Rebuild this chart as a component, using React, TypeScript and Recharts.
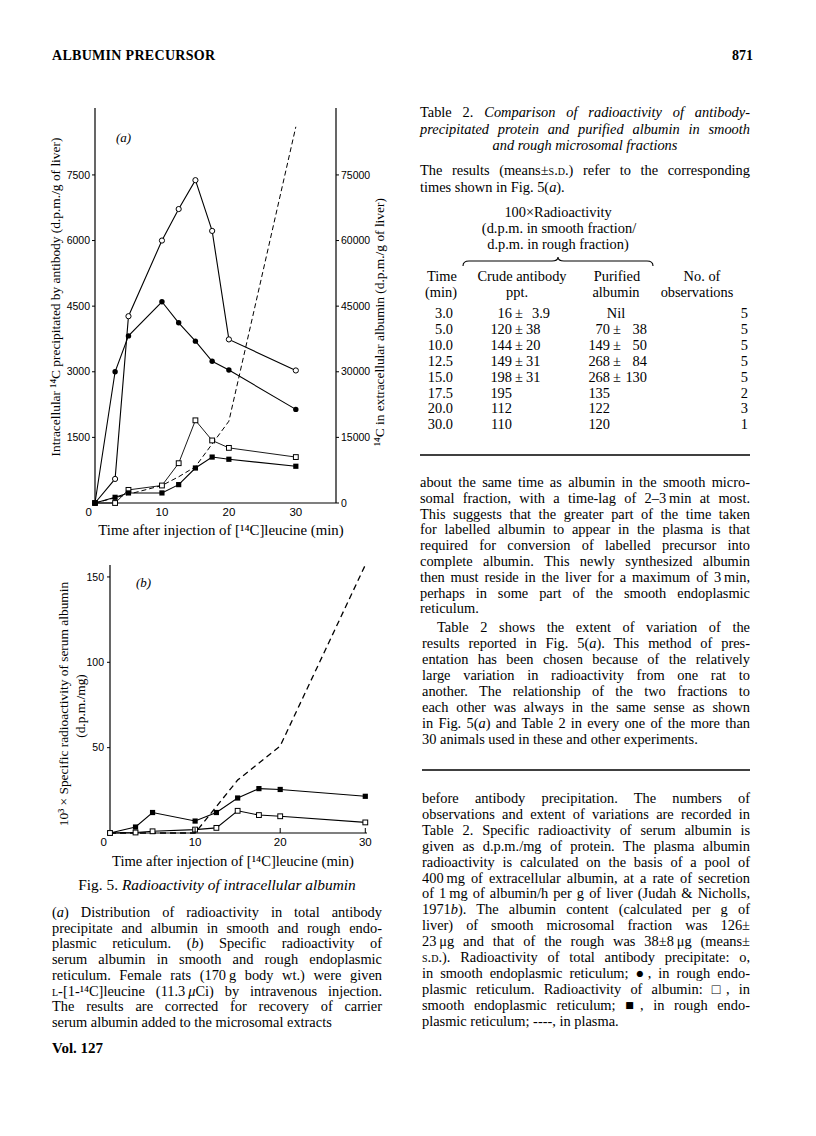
import React from "react";
import { LineChart, Line, XAxis, YAxis } from "recharts";

// Fig. 5(a) – times (min) and intracellular 14C (d.p.m./g liver)
const TIMES = [0, 3, 5, 10, 12.5, 15, 17.5, 20, 30];
const SMOOTH_TOTAL_A = [0, 550, 4270, 6000, 6720, 7380, 6220, 3740, 3030];
const ROUGH_TOTAL_A = [0, 3000, 3820, 4600, 4120, 3700, 3240, 3040, 2140];
const SMOOTH_ALB_A = [0, 0, 300, 400, 910, 1890, 1430, 1260, 1050];
const ROUGH_ALB_A = [0, 130, 230, 230, 420, 800, 1050, 1000, 840];
// extracellular albumin (right axis), null = no point
const PLASMA_A = [0, null, null, 4000, 6000, 8300, null, 18700, 86000];
const LEFT_TICKS_A = [1500, 3000, 4500, 6000, 7500];
const RIGHT_TICKS_A = [0, 15000, 30000, 45000, 60000, 75000];

// Fig. 5(b) – 10^3 x specific radioactivity of serum albumin
const ROUGH_B = [0, 3.5, 12, 7, 12, 20.5, 26, 25.5, 21.5];
const SMOOTH_B = [0, 0.3, 1, 2, 3, 13, 10.5, 9.8, 6.2];
const PLASMA_B = [0, null, null, 0, null, 31, null, 51, 157];
const Y_TICKS_B = [50, 100, 150];
const X_TICKS = [0, 10, 20, 30];

// Table 2
const TAB_TIME = ["3.0", "5.0", "10.0", "12.5", "15.0", "17.5", "20.0", "30.0"];
const TAB_CRUDE_MEAN = ["16", "120", "144", "149", "198", "195", "112", "110"];
const TAB_CRUDE_SD = ["3.9", "38", "20", "31", "31", "", "", ""];
const TAB_PUR_MEAN = ["Nil", "70", "149", "268", "268", "135", "122", "120"];
const TAB_PUR_SD = ["", "38", "50", "84", "130", "", "", ""];
const TAB_N = ["5", "5", "5", "5", "5", "2", "3", "1"];

const dataA = TIMES.map((t, i) => ({
  t,
  smoothTotal: SMOOTH_TOTAL_A[i],
  roughTotal: ROUGH_TOTAL_A[i],
  smoothAlb: SMOOTH_ALB_A[i],
  roughAlb: ROUGH_ALB_A[i],
  plasma: PLASMA_A[i],
}));

const dataB = TIMES.map((t, i) => ({
  t,
  rough: ROUGH_B[i],
  smooth: SMOOTH_B[i],
  plasma: PLASMA_B[i],
}));

const SERIF = "'Liberation Serif', 'Times New Roman', serif";
const TICK_FONT = "'Liberation Sans', Arial, sans-serif";
const THIN = "\u2009";

const openCircle = (p: any) =>
  p.cx == null || p.value == null ? <g key={p.index} /> : (
    <circle key={p.index} cx={p.cx} cy={p.cy} r={2.6} fill="#fff" stroke="#000" strokeWidth={1} />
  );
const filledCircle = (p: any) =>
  p.cx == null || p.value == null ? <g key={p.index} /> : (
    <circle key={p.index} cx={p.cx} cy={p.cy} r={2.7} fill="#000" />
  );
const openSquare = (p: any) =>
  p.cx == null || p.value == null ? <g key={p.index} /> : (
    <rect key={p.index} x={p.cx - 2.4} y={p.cy - 2.4} width={4.8} height={4.8} fill="#fff" stroke="#000" strokeWidth={1} />
  );
const filledSquare = (p: any) =>
  p.cx == null || p.value == null ? <g key={p.index} /> : (
    <rect key={p.index} x={p.cx - 2.6} y={p.cy - 2.6} width={5.2} height={5.2} fill="#000" />
  );

// x tick: "0" sits left of the origin; others may get a short inward tick mark
const makeXTick = (inward: boolean) => (p: any) => {
  const v = p.payload.value;
  const isZero = v === 0;
  return (
    <g>
      {inward && !isZero && (
        <line x1={p.x} x2={p.x} y1={p.y - 4} y2={p.y - 9} stroke="#000" strokeWidth={1} />
      )}
      <text
        x={isZero ? p.x - 3 : p.x}
        y={p.y}
        dy="0.75em"
        textAnchor={isZero ? "end" : "middle"}
        fontSize={11.5}
        fontFamily={TICK_FONT}
        fill="#000"
      >
        {v}
      </text>
    </g>
  );
};

const tickStyle = { fontSize: 10.5, fontFamily: TICK_FONT, fill: "#000" };
const axisLine = { stroke: "#000", strokeWidth: 1.2 };

function ChartA() {
  return (
    <LineChart width={400} height={560} data={dataA} margin={{ top: 108, right: 19, bottom: 32, left: 55 }}>
      <XAxis
        dataKey="t"
        type="number"
        domain={[0, 36]}
        ticks={X_TICKS}
        tickLine={false}
        tickSize={0}
        tickMargin={4}
        axisLine={axisLine}
        height={25}
        tick={makeXTick(false)}
      />
      <YAxis
        yAxisId="l"
        domain={[0, 9030]}
        ticks={LEFT_TICKS_A}
        width={40}
        tickSize={3}
        tickMargin={2}
        axisLine={axisLine}
        tickLine={{ stroke: "#000" }}
        tick={tickStyle}
      />
      <YAxis
        yAxisId="r"
        orientation="right"
        domain={[0, 90300]}
        ticks={RIGHT_TICKS_A}
        width={45}
        tickSize={3}
        tickMargin={2}
        axisLine={axisLine}
        tickLine={{ stroke: "#000" }}
        tick={tickStyle}
      />
      <Line yAxisId="r" dataKey="plasma" stroke="#000" strokeWidth={1} strokeDasharray="5 3" dot={false} connectNulls isAnimationActive={false} />
      <Line yAxisId="l" dataKey="smoothTotal" stroke="#000" strokeWidth={1.1} dot={openCircle} isAnimationActive={false} />
      <Line yAxisId="l" dataKey="roughTotal" stroke="#000" strokeWidth={1.1} dot={filledCircle} isAnimationActive={false} />
      <Line yAxisId="l" dataKey="smoothAlb" stroke="#000" strokeWidth={0.9} dot={openSquare} isAnimationActive={false} />
      <Line yAxisId="l" dataKey="roughAlb" stroke="#000" strokeWidth={1.1} dot={filledSquare} isAnimationActive={false} />
    </LineChart>
  );
}

function ChartB() {
  return (
    <LineChart width={400} height={320} data={dataB} margin={{ top: 25, right: 33, bottom: 7, left: 70 }}>
      <XAxis
        dataKey="t"
        type="number"
        domain={[0, 30.2]}
        ticks={X_TICKS}
        tickLine={false}
        tickSize={0}
        tickMargin={4}
        axisLine={axisLine}
        height={20}
        tick={makeXTick(true)}
      />
      <YAxis
        domain={[0, 157]}
        ticks={Y_TICKS_B}
        width={40}
        tickSize={3}
        tickMargin={3}
        axisLine={axisLine}
        tickLine={{ stroke: "#000" }}
        tick={tickStyle}
      />
      <Line dataKey="plasma" stroke="#000" strokeWidth={1.3} strokeDasharray="6 4" dot={false} connectNulls isAnimationActive={false} />
      <Line dataKey="rough" stroke="#000" strokeWidth={1.1} dot={filledSquare} isAnimationActive={false} />
      <Line dataKey="smooth" stroke="#000" strokeWidth={1.1} dot={openSquare} isAnimationActive={false} />
    </LineChart>
  );
}

type TProps = { x: number; y: number; align?: "left" | "right" | "center"; style?: React.CSSProperties; children: React.ReactNode };
function T({ x, y, align = "left", style, children }: TProps) {
  const base: React.CSSProperties = { position: "absolute", top: y - 8, lineHeight: "16px", whiteSpace: "nowrap" };
  if (align === "right") return <div style={{ ...base, left: x - 300, width: 300, textAlign: "right", ...style }}>{children}</div>;
  if (align === "center") return <div style={{ ...base, left: x - 300, width: 600, textAlign: "center", ...style }}>{children}</div>;
  return <div style={{ ...base, left: x, ...style }}>{children}</div>;
}

type ParaProps = { lines: React.ReactNode[]; x: number; width: number; y0: number; step: number; indent?: number; justifyLast?: boolean };
function Para({ lines, x, width, y0, step, indent = 0, justifyLast = false }: ParaProps) {
  return (
    <>
      {lines.map((ln, i) => {
        const left = i === lines.length - 1 && !justifyLast;
        const ind = i === 0 ? indent : 0;
        return (
          <div
            key={i}
            style={{
              position: "absolute",
              left: x + ind,
              width: width - ind,
              top: y0 + i * step - 8,
              lineHeight: "16px",
              whiteSpace: "nowrap",
              textAlign: left ? "left" : "justify",
              textAlignLast: left ? "left" : "justify",
            }}
          >
            {ln}
          </div>
        );
      })}
    </>
  );
}

const I = ({ children }: { children: React.ReactNode }) => <i>{children}</i>;
const SC = ({ children }: { children: React.ReactNode }) => <span style={{ fontVariant: "small-caps" }}>{children}</span>;

const para1 = [
  "about the same time as albumin in the smooth micro-",
  `somal fraction, with a time-lag of 2–3${THIN}min at most.`,
  "This suggests that the greater part of the time taken",
  "for labelled albumin to appear in the plasma is that",
  "required for conversion of labelled precursor into",
  "complete albumin. This newly synthesized albumin",
  `then must reside in the liver for a maximum of 3${THIN}min,`,
  "perhaps in some part of the smooth endoplasmic",
  "reticulum.",
];
const para2 = [
  "Table 2 shows the extent of variation of the",
  <>results reported in Fig. 5(<I>a</I>). This method of pres-</>,
  "entation has been chosen because of the relatively",
  "large variation in radioactivity from one rat to",
  "another. The relationship of the two fractions to",
  "each other was always in the same sense as shown",
  <>in Fig. 5(<I>a</I>) and Table 2 in every one of the more than</>,
  "30 animals used in these and other experiments.",
];
const para3 = [
  "before antibody precipitation. The numbers of",
  "observations and extent of variations are recorded in",
  "Table 2. Specific radioactivity of serum albumin is",
  "given as d.p.m./mg of protein. The plasma albumin",
  "radioactivity is calculated on the basis of a pool of",
  `400${THIN}mg of extracellular albumin, at a rate of secretion`,
  `of 1${THIN}mg of albumin/h per g of liver (Judah & Nicholls,`,
  <>1971<I>b</I>). The albumin content (calculated per g of</>,
  "liver) of smooth microsomal fraction was 126±",
  `23${THIN}μg and that of the rough was 38±8${THIN}μg (means±`,
  <><SC>s.d.</SC>). Radioactivity of total antibody precipitate: o,</>,
  "in smooth endoplasmic reticulum; ●, in rough endo-",
  "plasmic reticulum. Radioactivity of albumin: □, in",
  "smooth endoplasmic reticulum; ■, in rough endo-",
  "plasmic reticulum; ----, in plasma.",
];
const caption = [
  <>(<I>a</I>) Distribution of radioactivity in total antibody</>,
  "precipitate and albumin in smooth and rough endo-",
  <>plasmic reticulum. (<I>b</I>) Specific radioactivity of</>,
  "serum albumin in smooth and rough endoplasmic",
  `reticulum. Female rats (170${THIN}g body wt.) were given`,
  <><SC>l</SC>-[1-¹⁴C]leucine (11.3{THIN}<I>μ</I>Ci) by intravenous injection.</>,
  "The results are corrected for recovery of carrier",
  "serum albumin added to the microsomal extracts",
];

const rotated = (cx: number, cy: number, fs: number): React.CSSProperties => ({
  position: "absolute",
  left: cx - 200,
  top: cy - 8,
  width: 400,
  lineHeight: "16px",
  fontSize: fs,
  textAlign: "center",
  transform: "rotate(-90deg)",
  whiteSpace: "nowrap",
});

export default function App() {
  const rowY = (i: number) => 313 + i * 15.9;
  return (
    <div
      style={{
        position: "absolute",
        left: 0,
        top: 0,
        width: 816,
        height: 1136,
        background: "#fff",
        fontFamily: SERIF,
        fontSize: 14.4,
        color: "#000",
        overflow: "hidden",
      }}
    >
      {/* running head */}
      <T x={52} y={56} style={{ fontWeight: "bold", fontSize: 14, letterSpacing: 0.3 }}>ALBUMIN PRECURSOR</T>
      <T x={753} y={56} align="right" style={{ fontWeight: "bold", fontSize: 14 }}>871</T>

      {/* Fig 5(a) */}
      <div style={{ position: "absolute", left: 0, top: 0 }}>
        <ChartA />
      </div>
      <T x={116} y={138} style={{ fontStyle: "italic", fontSize: 13 }}>(a)</T>
      <div style={rotated(56, 297, 13.4)}>Intracellular ¹⁴C precipitated by antibody (d.p.m./g of liver)</div>
      <div style={rotated(380, 322, 13.4)}>¹⁴C in extracellular albumin (d.p.m./g of liver)</div>
      <T x={221} y={530} align="center" style={{ fontSize: 14.8 }}>Time after injection of [¹⁴C]leucine (min)</T>

      {/* Fig 5(b) */}
      <div style={{ position: "absolute", left: 0, top: 540 }}>
        <ChartB />
      </div>
      <T x={136} y={583} style={{ fontStyle: "italic", fontSize: 13 }}>(b)</T>
      <div style={rotated(64, 704, 13.4)}>10³ × Specific radioactivity of serum albumin</div>
      <div style={rotated(81, 706, 13.4)}>(d.p.m./mg)</div>
      <T x={233} y={861} align="center" style={{ fontSize: 14.6 }}>Time after injection of [¹⁴C]leucine (min)</T>

      <T x={217} y={885} align="center" style={{ fontSize: 15.4 }}>
        Fig. 5. <I>Radioactivity of intracellular albumin</I>
      </T>
      <Para lines={caption} x={52} width={330} y0={912} step={15.7} />
      <T x={52} y={1048} style={{ fontWeight: "bold", fontSize: 15 }}>Vol. 127</T>

      {/* Table 2 */}
      <Para
        lines={[
          <>Table 2. <I>Comparison of radioactivity of antibody-</I></>,
          <I>precipitated protein and purified albumin in smooth</I>,
        ]}
        x={420}
        width={330}
        y0={112}
        step={16.5}
        justifyLast
      />
      <T x={585} y={145} align="center"><I>and rough microsomal fractions</I></T>
      <Para
        lines={[
          <>The results (means±<SC>s.d.</SC>) refer to the corresponding</>,
          <>times shown in Fig. 5(<I>a</I>).</>,
        ]}
        x={420}
        width={330}
        y0={170}
        step={16.5}
      />
      <T x={558} y={212} align="center">100×Radioactivity</T>
      <T x={559} y={228} align="center">(d.p.m. in smooth fraction/</T>
      <T x={558} y={244} align="center">d.p.m. in rough fraction)</T>
      <svg style={{ position: "absolute", left: 0, top: 0 }} width={816} height={1136}>
        <path d="M463,266 Q463,261 469,261 L552,261 Q558,261 558,257 Q558,261 564,261 L647,261 Q653,261 653,266" fill="none" stroke="#000" strokeWidth={1.1} />
        <line x1={420} x2={750} y1={455} y2={455} stroke="#000" strokeWidth={1.4} />
        <line x1={422} x2={750} y1={770} y2={770} stroke="#000" strokeWidth={1.4} />
      </svg>
      <T x={442} y={276} align="center">Time</T>
      <T x={441} y={292} align="center">(min)</T>
      <T x={522} y={276} align="center">Crude antibody</T>
      <T x={517} y={292} align="center">ppt.</T>
      <T x={617} y={276} align="center">Purified</T>
      <T x={616} y={292} align="center">albumin</T>
      <T x={702} y={276} align="center">No. of</T>
      <T x={697} y={292} align="center">observations</T>
      {TAB_TIME.map((tm, i) => (
        <React.Fragment key={i}>
          <T x={453} y={rowY(i)} align="right">{tm}</T>
          <T x={512} y={rowY(i)} align="right">{TAB_CRUDE_MEAN[i]}</T>
          {TAB_CRUDE_SD[i] && (
            <>
              <T x={519} y={rowY(i)} align="center">±</T>
              <T x={TAB_CRUDE_SD[i].includes(".") ? 532 : 526} y={rowY(i)}>{TAB_CRUDE_SD[i]}</T>
            </>
          )}
          {TAB_PUR_MEAN[i] === "Nil" ? (
            <T x={616} y={rowY(i)} align="center">Nil</T>
          ) : (
            <T x={610} y={rowY(i)} align="right">{TAB_PUR_MEAN[i]}</T>
          )}
          {TAB_PUR_SD[i] && (
            <>
              <T x={617} y={rowY(i)} align="center">±</T>
              <T x={647} y={rowY(i)} align="right">{TAB_PUR_SD[i]}</T>
            </>
          )}
          <T x={748} y={rowY(i)} align="right">{TAB_N[i]}</T>
        </React.Fragment>
      ))}

      <Para lines={para1} x={420} width={330} y0={482} step={15.8} />
      <Para lines={para2} x={422} width={328} y0={627} step={16} indent={15} />
      <Para lines={para3} x={422} width={328} y0={798} step={15.9} />
    </div>
  );
}
